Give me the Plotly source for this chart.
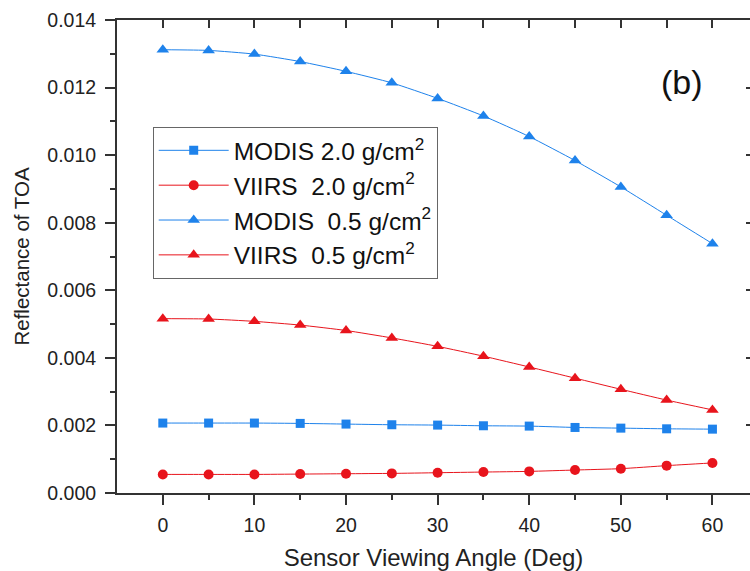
import plotly.graph_objects as go

angles = [0, 5, 10, 15, 20, 25, 30, 35, 40, 45, 50, 55, 60]
modis_20 = [0.00207, 0.00207, 0.00207, 0.00206, 0.00204, 0.00202, 0.00201, 0.00199, 0.00198, 0.00194, 0.00192, 0.00190, 0.00189]
viirs_20 = [0.00055, 0.00055, 0.00055, 0.00056, 0.00057, 0.00058, 0.00060, 0.00062, 0.00064, 0.00068, 0.00072, 0.00081, 0.00089]
modis_05 = [0.01312, 0.01310, 0.01299, 0.01277, 0.01248, 0.01214, 0.01168, 0.01116, 0.01055, 0.00984, 0.00906, 0.00822, 0.00738]
viirs_05 = [0.00516, 0.00515, 0.00508, 0.00497, 0.00481, 0.00459, 0.00434, 0.00405, 0.00373, 0.00340, 0.00307, 0.00275, 0.00246]

names = ["MODIS 2.0 g/cm<sup>2</sup>", "VIIRS  2.0 g/cm<sup>2</sup>",
         "MODIS  0.5 g/cm<sup>2</sup>", "VIIRS  0.5 g/cm<sup>2</sup>"]
x_ticks = [0, 10, 20, 30, 40, 50, 60]
x_minor = [5, 15, 25, 35, 45, 55]
y_ticks = [0, 0.002, 0.004, 0.006, 0.008, 0.010, 0.012, 0.014]
y_minor = [0.001, 0.003, 0.005, 0.007, 0.009, 0.011, 0.013]

BLUE = "#1E82EB"
RED = "#E8141C"
FONT = "Liberation Sans, Arial, sans-serif"

fig = go.Figure()
series = [(modis_20, names[0], BLUE, "square", 9),
          (viirs_20, names[1], RED, "circle", 10),
          (modis_05, names[2], BLUE, "triangle-up", 11),
          (viirs_05, names[3], RED, "triangle-up", 11)]
for vals, nm, col, sym, sz in series:
    fig.add_trace(go.Scatter(x=angles, y=vals, name=nm, mode="lines+markers",
                             line=dict(color=col, width=1, shape="spline", smoothing=0.5),
                             marker=dict(symbol=sym, size=sz, color=col)))

# invisible trace for the mirrored (top / right) axes
fig.add_trace(go.Scatter(x=[0], y=[0], xaxis="x2", yaxis="y2", mode="markers",
                         marker=dict(opacity=0), showlegend=False, hoverinfo="skip"))

XR = [-5, 64.1]
YR = [0, 0.014]
AC = "#333333"

fig.update_layout(
    width=750, height=571,
    margin=dict(l=117, r=0, t=20, b=78),
    plot_bgcolor="white", paper_bgcolor="white",
    font=dict(family=FONT, size=19.5, color="#222222"),
    xaxis=dict(range=XR, tickvals=x_ticks, ticks="outside", ticklen=10,
               tickwidth=1.5, tickcolor=AC, showline=True, linecolor=AC, linewidth=2,
               showgrid=False, zeroline=False, automargin=False, ticklabelstandoff=4,
               minor=dict(tickvals=x_minor, ticks="outside", ticklen=5,
                          tickwidth=1.5, tickcolor=AC),
               title=dict(text="Sensor Viewing Angle (Deg)", font=dict(size=24), standoff=18),
               tickfont=dict(size=19.5)),
    yaxis=dict(range=YR, tickvals=y_ticks,
               tickformat=".3f", ticks="outside", ticklen=10, tickwidth=1.5, tickcolor=AC,
               showline=True, linecolor=AC, linewidth=2, showgrid=False, zeroline=False,
               automargin=False, ticklabelstandoff=5,
               minor=dict(tickvals=y_minor, ticks="outside",
                          ticklen=5, tickwidth=1.5, tickcolor=AC),
               title=dict(text="Reflectance of TOA", font=dict(size=20.5), standoff=12),
               tickfont=dict(size=19.5)),
    xaxis2=dict(range=XR, overlaying="x", side="top", anchor="y",
                tickvals=x_ticks + x_minor, ticks="inside",
                ticklen=8, tickwidth=1.5, tickcolor=AC, showticklabels=False, automargin=False,
                showline=True, linecolor=AC, linewidth=2, showgrid=False, zeroline=False),
    yaxis2=dict(range=YR, overlaying="y", side="right", anchor="x",
                tickvals=y_ticks, ticks="inside", automargin=False,
                ticklen=4, tickwidth=1.5, tickcolor=AC, showticklabels=False,
                showline=False, showgrid=False, zeroline=False),
    legend=dict(x=0.0564, y=0.774, xanchor="left", yanchor="top",
                bordercolor="#666666", borderwidth=1, bgcolor="white",
                font=dict(size=24.5, color="#111111"), tracegroupgap=0, itemwidth=70),
    showlegend=True,
)

fig.add_annotation(text="(b)", x=0.8926, y=0.869, xref="paper", yref="paper",
                   xanchor="center", yanchor="middle",
                   showarrow=False, font=dict(size=34, color="#111111"))

fig.write_html("out.html", config={"displayModeBar": False},
               post_script="document.body.style.margin='0px';")
